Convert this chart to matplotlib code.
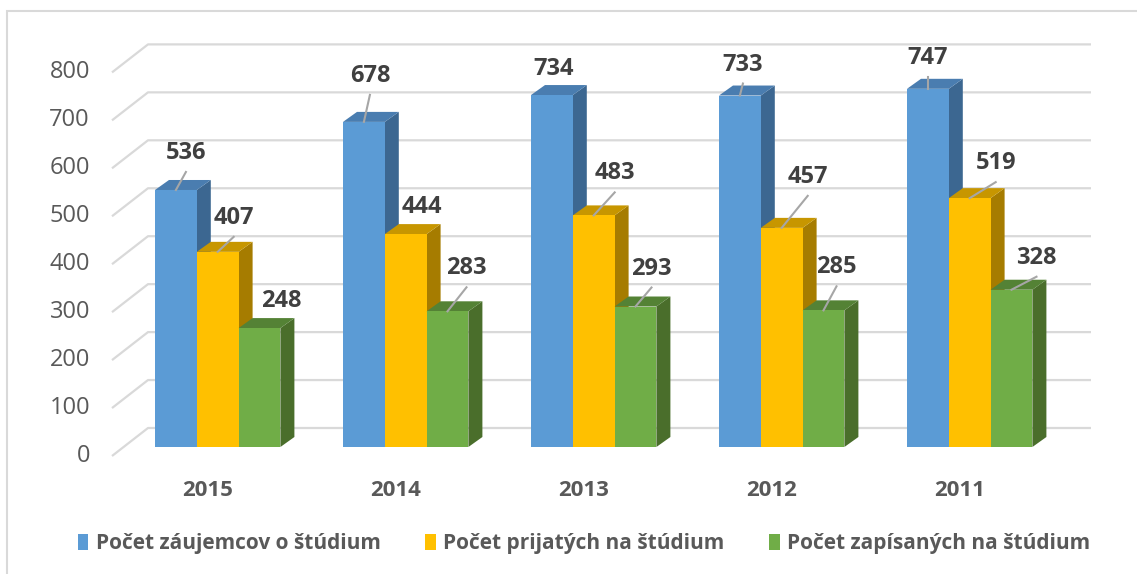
import matplotlib.pyplot as plt
from matplotlib.patches import Patch, Rectangle

years = ['2015', '2014', '2013', '2012', '2011']
series_names = ['Počet záujemcov o štúdium', 'Počet prijatých na štúdium', 'Počet zapísaných na štúdium']
zaujemcovia = [536, 678, 734, 733, 747]
prijati = [407, 444, 483, 457, 519]
zapisani = [248, 283, 293, 285, 328]
y_ticks = [0, 100, 200, 300, 400, 500, 600, 700, 800]

# label offsets from the bar's front-top centre, in pixels (dx, dy up)
label_offsets = [
    [(10, 37), (6, 46), (2, 26), (3, 31), (0, 31)],
    [(16, 34), (16, 27), (21, 42), (26, 51), (26, 35)],
    [(22, 27), (19, 43), (16, 38), (13, 43), (25, 32)],
]

front = ['#5B9BD5', '#FFC000', '#70AD47']
side = ['#3C6791', '#A67C00', '#4A6E2B']
top = ['#4A7DB0', '#C79600', '#548235']

plt.rcParams['font.family'] = ['Open Sans', 'DejaVu Sans']

W, H = 1137, 574
fig = plt.figure(figsize=(W / 100, H / 100), dpi=100)
ax = fig.add_axes([0, 0, 1, 1])

# pixel scale: one group = 188 px, one unit of value = 0.4795 px
sx, sy = 188.0, 0.4795
x0px, y0px = 217.7, 447.0
ax.set_xlim(-x0px / sx, (W - x0px) / sx)
ax.set_ylim(-(H - y0px) / sy, y0px / sy)
ax.axis('off')

w = 41.8 / sx
ddx, ddy = 14 / sx, 10 / sy

# grid: back wall lines + slanted side lines
gx_front, gx_back, gx_end = (112 - x0px) / sx, (148 - x0px) / sx, (1091 - x0px) / sx
g_front, g_back = -9 / sy, 19 / sy
for t in y_ticks:
    ax.plot([gx_front, gx_back, gx_end], [t + g_front, t + g_back, t + g_back],
            color='#D9D9D9', lw=1.6, zorder=1, solid_capstyle='butt')
    ax.text((90 - x0px) / sx, t + g_front, str(t), ha='right', va='center',
            fontsize=17, color='#595959')

data = [zaujemcovia, prijati, zapisani]
for i in range(len(years)):
    for j in range(3):
        v = data[j][i]
        xl = i + (j - 1.5) * w
        xr = xl + w
        ax.fill([xr, xr + ddx, xr + ddx, xr], [0, ddy, v + ddy, v], color=side[j], lw=0, zorder=2)
        ax.fill([xl, xl + ddx, xr + ddx, xr], [v, v + ddy, v + ddy, v], color=top[j], lw=0, zorder=2)
        ax.bar(xl, v, width=w, align='edge', color=front[j], lw=0, zorder=2)
        ox, oy = label_offsets[j][i]
        xc = xl + w / 2
        lx, ly = xc + ox / sx, v + oy / sy
        if oy > 29:
            ax.plot([lx, xc], [ly - 19 / sy, v], color='#A6A6A6', lw=1.5, zorder=3)
        ax.text(lx, ly, str(v), ha='center', va='center', fontsize=17,
                fontweight='bold', color='#404040', zorder=4)

for i, yr in enumerate(years):
    ax.text(i - 10 / sx, -43 / sy, yr, ha='center', va='center', fontsize=16,
            fontweight='bold', color='#595959')

handles = [Patch(facecolor=c, edgecolor='none') for c in front]
fig.legend(handles, series_names, loc='center', bbox_to_anchor=(584 / W, 1 - 544 / H), ncol=3,
           frameon=False, prop={'weight': 'bold', 'size': 15},
           handlelength=0.5, handleheight=0.8, handletextpad=0.35, columnspacing=2.15,
           labelcolor='#595959')

fig.patches.append(Rectangle((7 / W, -0.1), 1.2, 1.1 - 11 / H, transform=fig.transFigure,
                             fill=False, edgecolor='#D9D9D9', lw=1.5))

fig.savefig('out.png', dpi=100)
